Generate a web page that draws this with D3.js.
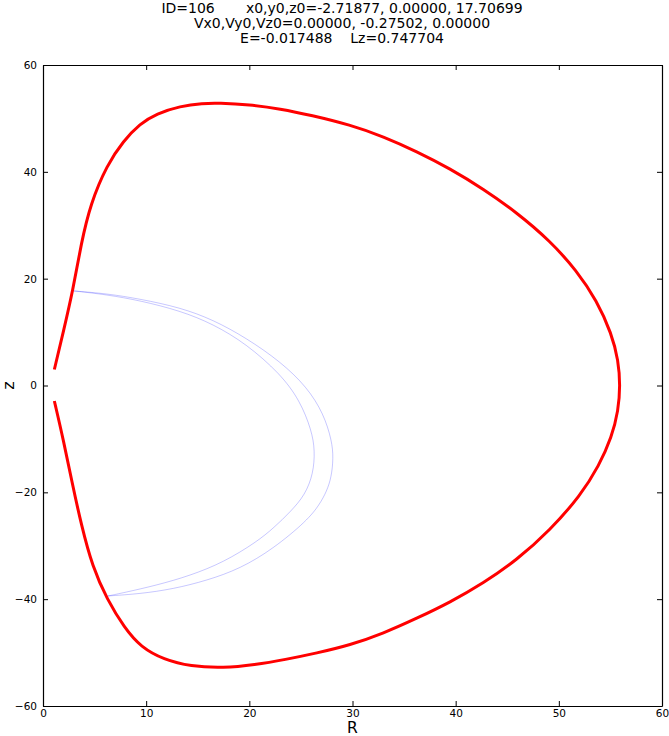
<!DOCTYPE html>
<html><head><meta charset="utf-8">
<script src="https://cdn.jsdelivr.net/npm/d3@7"></script>
<style>
html,body{margin:0;padding:0;background:#fff;}
text{font-family:"DejaVu Sans",sans-serif;}
</style></head>
<body>
<svg id="c" width="669" height="736"></svg>
<script>
const titleLines = [
  "ID=106       x0,y0,z0=-2.71877, 0.00000, 17.70699",
  "Vx0,Vy0,Vz0=0.00000, -0.27502, 0.00000",
  "E=-0.017488    Lz=0.747704"
];
const xTicks = [0, 10, 20, 30, 40, 50, 60];
const yTicks = [-60, -40, -20, 0, 20, 40, 60];
// zero-velocity curve (R, z)
const curveR = [1.10,2.0,2.9,3.7,4.6,6.2,7.8,9.4,11.0,13.3,15.5,17,20,23,26,29.76,33.0,36.22,39.45,42.68,45.91,49.14,51.73,53.67,55.12,55.77,55.95,55.77,55.12,53.9,52.1,49.14,45.91,42.68,39.45,36.22,33.0,29.76,26.5,23.5,20.5,17.5,14.3,11.7,9.5,7.9,6.2,4.8,3.7,2.8,2.0,1.10];
const curveZ = [3.0,10.3,17.8,26.6,34.0,41.3,45.8,49.0,50.9,52.3,52.85,52.9,52.6,51.8,50.6,48.8,46.6,43.8,40.6,36.8,32.4,27.1,21.5,15.9,9.7,4.7,0,-4.7,-9.7,-15.0,-20.6,-27.1,-32.7,-37.0,-40.6,-43.6,-46.4,-48.6,-50.1,-51.3,-52.3,-52.9,-52.6,-51.3,-49.0,-45.4,-40.0,-34.0,-26.0,-18.0,-10.4,-2.9];
// orbit (R, z): outward arc to the lower turning point, then the return arc
const orbitR = [3.0,6.2,9.4,13.3,16.5,19.7,23.0,25.6,27.2,28.0,28.15,27.95,27.5,26.8,25.6,22.3,19.1,15.9,12.6,9.4,6.3,7.8,11.0,14.25,17.5,20.7,22.4,24.0,25.4,26.2,26.36,26.04,24.9,23.0,19.7,16.5,13.3,9.4,6.2,3.0];
const orbitZ = [17.7,17.2,16.2,14.6,12.3,8.9,4.5,-0.3,-5.3,-10.3,-13.6,-17.2,-19.8,-22.3,-25.3,-30.6,-34.3,-36.5,-38.1,-39.0,-39.4,-38.8,-37.4,-35.6,-33.1,-29.3,-26.6,-23.6,-20.5,-16.5,-12.2,-8.4,-2.8,2.2,7.8,11.5,14.0,15.9,17.0,17.7];
const orbitTurn = 20; // index of the lower turning point

const svg = d3.select("#c");
const pL = 43, pR = 662, pT = 65, pB = 706;
const x = d3.scaleLinear().domain([0, 60]).range([pL, pR]);
const y = d3.scaleLinear().domain([-60, 60]).range([pB, pT]);

// title
svg.append("g").selectAll("text").data(titleLines).join("text")
  .attr("x", 342).attr("y", (d, i) => 13.3 + i * 15)
  .attr("text-anchor", "middle").attr("font-size", 14).attr("fill", "#000")
  .style("white-space", "pre").text(d => d);

const line = d3.line().x(d => x(d[0])).y(d => y(d[1])).curve(d3.curveBasis);
svg.append("clipPath").attr("id", "pc").append("rect")
  .attr("x", pL).attr("y", pT).attr("width", pR - pL).attr("height", pB - pT);
const plot = svg.append("g").attr("clip-path", "url(#pc)");
const orbitPts = orbitR.map((r, i) => [r, orbitZ[i]]);
[orbitPts.slice(0, orbitTurn + 1), orbitPts.slice(orbitTurn)].forEach(seg => {
  plot.append("path").datum(seg)
    .attr("d", line).attr("fill", "none").attr("stroke", "#0000ff")
    .attr("stroke-opacity", 0.22).attr("stroke-width", 1);
});
plot.append("path").datum(curveR.map((r, i) => [r, curveZ[i]]))
  .attr("d", line).attr("fill", "none").attr("stroke", "#ff0000")
  .attr("stroke-width", 3).attr("stroke-linejoin", "round");

// axes
const tl = 5;
const gx = svg.append("g").attr("transform", `translate(0,${pB})`)
  .call(d3.axisBottom(x).tickValues(xTicks).tickSizeInner(-tl).tickSizeOuter(0).tickPadding(4).tickFormat(d3.format("d")));
const gxt = svg.append("g").attr("transform", `translate(0,${pT})`)
  .call(d3.axisTop(x).tickValues(xTicks).tickSizeInner(-tl).tickSizeOuter(0).tickFormat(""));
const fmtY = d => (d < 0 ? "\u2212" + Math.abs(d) : String(d));
const gy = svg.append("g").attr("transform", `translate(${pL},0)`)
  .call(d3.axisLeft(y).tickValues(yTicks).tickSizeInner(-tl).tickSizeOuter(0).tickPadding(6).tickFormat(fmtY));
const gyr = svg.append("g").attr("transform", `translate(${pR},0)`)
  .call(d3.axisRight(y).tickValues(yTicks).tickSizeInner(-tl).tickSizeOuter(0).tickFormat(""));
[gx, gxt, gy, gyr].forEach(g => {
  g.select(".domain").attr("stroke", "#000").attr("stroke-width", 1.2);
  g.selectAll(".tick line").attr("stroke", "#000").attr("stroke-width", 1);
  g.selectAll(".tick text").attr("font-size", 10.5).attr("fill", "#000").attr("font-family", "DejaVu Sans, sans-serif");
});

// axis labels
svg.append("text").attr("x", (pL + pR) / 2).attr("y", 732.5)
  .attr("text-anchor", "middle").attr("font-size", 15.5).text("R");
svg.append("text").attr("transform", `translate(14,${(pT + pB) / 2}) rotate(-90)`)
  .attr("text-anchor", "middle").attr("font-size", 16).text("z");
</script>
</body></html>
